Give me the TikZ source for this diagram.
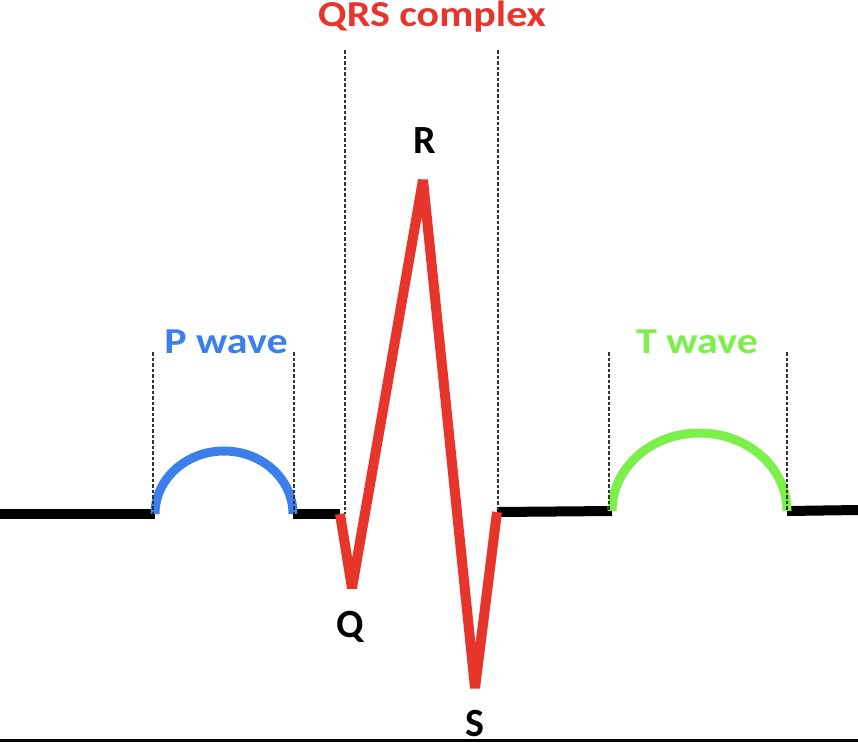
\documentclass[tikz,border=0pt]{standalone}
\usepackage{fontspec}
\setmainfont{Carlito}
\newfontfamily\wavefont[FakeStretch=1.15]{Carlito}
\definecolor{pblue}{HTML}{3D7FEA}
\definecolor{qred}{HTML}{E8352B}
\definecolor{tgreen}{HTML}{7CF04A}
\begin{document}
\begin{tikzpicture}[x=1pt, y=-1pt,
  baseline/.style={line width=10pt, black},
  waveline/.style={line width=9pt},
  guide/.style={line width=1.6pt, black!80, dash pattern=on 3.5pt off 2pt},
  tag/.style={inner sep=0pt, anchor=base, font=\wavefont\fontsize{36.5}{40}\selectfont\bfseries},
  peak/.style={inner sep=0pt, anchor=base, font=\fontsize{40}{44}\selectfont\bfseries}]
\useasboundingbox (0,0) rectangle (858,742);
% points of the trace
\coordinate (l0) at (0,514);
\coordinate (p0) at (155,514);
\coordinate (p1) at (293,514);
\coordinate (q0) at (340,514);
\coordinate (q) at (352,588);
\coordinate (r) at (423,180);
\coordinate (s) at (475,688);
\coordinate (s1) at (497,512);
\coordinate (t0) at (612,511);
\coordinate (t1) at (787,511);
\coordinate (e) at (858,510);
% flat segments
\draw[baseline] (l0) -- (p0);
\draw[baseline] (p1) -- (q0);
\draw[baseline] (s1) -- (t0);
\draw[baseline] (t1) -- (e);
% waves
\draw[waveline, pblue] (p0) arc[start angle=180, end angle=360, x radius=69, y radius=63];
\draw[waveline, tgreen] (t0) arc[start angle=180, end angle=360, x radius=87.5, y radius=78];
\draw[line width=10pt, qred, line join=bevel] (q0) -- (q) -- (r) -- (s) -- (s1);
% dashed guides
\coordinate (gp0) at (153,352);
\coordinate (gp1) at (294,352);
\coordinate (gq0) at (345,50);
\coordinate (gq1) at (498,50);
\coordinate (gt0) at (609,352);
\coordinate (gt1) at (787,352);
\draw[guide] (gp0) -- (gp0 |- p0);
\draw[guide] (gp1) -- (gp1 |- p1);
\draw[guide] (gq0) -- (gq0 |- q0);
\draw[guide] (gq1) -- (gq1 |- s1);
\draw[guide] (gt0) -- (gt0 |- t0);
\draw[guide] (gt1) -- (gt1 |- t1);
% labels
\node[tag, text=qred] (qrs) at (432,26) {QRS complex};
\node[tag, text=pblue] (pwave) at (226,353) {P wave};
\node[tag, text=tgreen] (twave) at (697,353) {T wave};
\node[peak] (rlbl) at (425,153) {R};
\node[peak] (qlbl) at (350,637) {Q};
\node[peak] (slbl) at (475,736) {S};
% bottom edge
\fill[black] (0,739) rectangle (858,742);
\end{tikzpicture}
\end{document}
